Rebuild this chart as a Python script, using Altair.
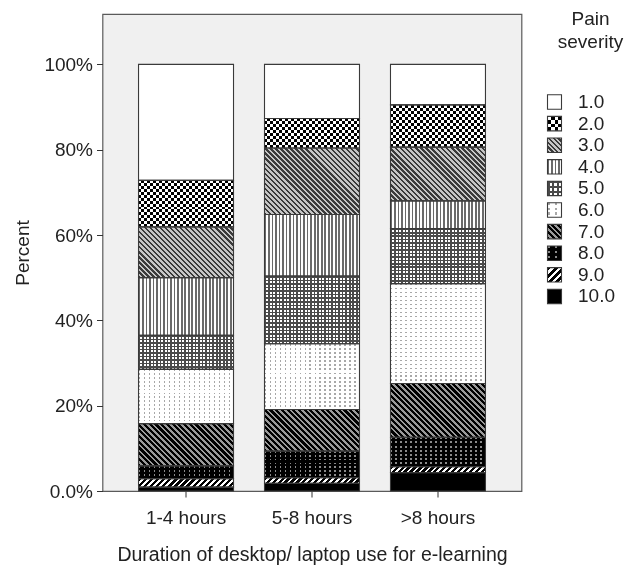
import math
import altair as alt
import pandas as pd

# ---------------- data ----------------
durations = ["1-4 hours", "5-8 hours", ">8 hours"]
severities = ["1.0", "2.0", "3.0", "4.0", "5.0", "6.0", "7.0", "8.0", "9.0", "10.0"]
pct_1_4 = [27.2, 10.9, 11.9, 13.5, 8.0, 12.7, 9.9, 3.0, 2.0, 0.9]
pct_5_8 = [12.7, 6.9, 15.6, 14.4, 15.9, 15.4, 9.75, 6.25, 1.3, 1.8]
pct_gt8 = [9.5, 9.9, 12.6, 6.5, 12.9, 23.4, 12.6, 6.9, 1.4, 4.3]
y_ticks = [0, 20, 40, 60, 80, 100]

rows = []
for d, vals in zip(durations, [pct_1_4, pct_5_8, pct_gt8]):
    for i, (s, v) in enumerate(zip(severities, vals)):
        rows.append({"duration": d, "severity": s, "sidx": i, "pct": v})
df = pd.DataFrame(rows)
df_leg = pd.DataFrame({"severity": severities})

# ---------------- layout ----------------
W, H, Y_MAX = 419, 477, 111.8
PAD_IN, PAD_OUT = 0.246, 0.286
STEP = W / (3 - PAD_IN + 2 * PAD_OUT)
BAR_W = STEP * (1 - PAD_IN)
PX = H / Y_MAX

# legend: three empty slots above the entries leave room for the legend title
leg_slots = ["pad0", "pad1", "pad2"] + severities
LEG_W = 14
LEG_STEP = 21.6
LEG_PI, LEG_PO, LEG_ALIGN = 0.33, 1.0, 0.37
LEG_H = LEG_STEP * (len(leg_slots) - LEG_PI + 2 * LEG_PO)
LEG_BW = LEG_STEP * (1 - LEG_PI)

FONT = "Liberation Sans"
TXT = "#222222"
CLEAR = "rgba(255,255,255,0)"


# ---------------- pattern fills (linear gradients) ----------------
def stops(n, ca, cb, fa):
    out = []
    for i in range(n):
        a, m, b = i / n, (i + fa) / n, (i + 1) / n
        out += [{"offset": round(a, 5), "color": ca}, {"offset": round(m, 5), "color": ca},
                {"offset": round(m, 5), "color": cb}, {"offset": round(b, 5), "color": cb}]
    return out


def vstripes(w, h, period, ca, cb, fa):
    n = max(1, round(w / period))
    return {"gradient": "linear", "x1": 0, "y1": 0, "x2": 1, "y2": 0, "stops": stops(n, ca, cb, fa)}


def hstripes(w, h, period, ca, cb, fa):
    n = max(1, round(h / period))
    return {"gradient": "linear", "x1": 0, "y1": 0, "x2": 0, "y2": 1, "stops": stops(n, ca, cb, fa)}


def diag(w, h, period, ca, cb, fa, back):
    r = h / w
    s = (1 + r) / (1 + r * r)
    n = max(1, round((w + h) / (period * math.sqrt(2))))
    if back:
        x1, y1, x2, y2 = 0, 1, s, 1 - s * r
    else:
        x1, y1, x2, y2 = 0, 0, s, s * r
    return {"gradient": "linear", "x1": round(x1, 5), "y1": round(y1, 5),
            "x2": round(x2, 5), "y2": round(y2, 5), "stops": stops(n, ca, cb, fa)}


def dback(w, h, period, ca, cb, fa):
    return diag(w, h, period, ca, cb, fa, True)


def dfwd(w, h, period, ca, cb, fa):
    return diag(w, h, period, ca, cb, fa, False)


# (builder, period in bars, period in legend, colour a, colour b, fraction a, blend)
patterns = {
    "1.0": [("solid", "#ffffff")],
    "2.0": [(vstripes, 6, 9.3, "#000000", "#ffffff", 0.5, None),
            (hstripes, 6, 9.3, "#ffffff", CLEAR, 0.5, "difference")],
    "3.0": [(dback, 3.6, 3.6, "#3a3a3a", "#c6c6c6", 0.5, None)],
    "4.0": [(vstripes, 3.5, 3.5, "#6a6a6a", "#ffffff", 0.5, None)],
    "5.0": [(vstripes, 3.5, 4.7, "#4a4a4a", "#ffffff", 0.45, None),
            (hstripes, 3.5, 4.7, "#4a4a4a", CLEAR, 0.45, None)],
    "6.0": [(vstripes, 5, 7, "#a8a8a8", "#ffffff", 0.3, None),
            (hstripes, 4, 5, CLEAR, "#ffffff", 0.45, None)],
    "7.0": [(dback, 4, 4, "#000000", "#9a9a9a", 0.55, None)],
    "8.0": [(vstripes, 5, 7, "#8a8a8a", "#000000", 0.3, None),
            (hstripes, 4, 5, CLEAR, "#000000", 0.45, None)],
    "9.0": [(dfwd, 4.2, 4.5, "#000000", "#ffffff", 0.55, None)],
    "10.0": [("solid", "#000000")],
}


def fills(sev, w, h, legend=False):
    out = []
    for spec in patterns[sev]:
        if spec[0] == "solid":
            out.append((spec[1], None))
        else:
            b, pm, pl, ca, cb, fa, blend = spec
            out.append((b(w, h, pl if legend else pm, ca, cb, fa), blend))
    return out


# ---------------- main chart ----------------
x_enc = alt.X(
    "duration:N", sort=durations,
    scale=alt.Scale(domain=durations, paddingInner=PAD_IN, paddingOuter=PAD_OUT),
    axis=alt.Axis(title="Duration of desktop/ laptop use for e-learning", labelAngle=0,
                  domain=False, ticks=True, tickSize=6, tickColor="#333333",
                  labelFont=FONT, labelFontSize=19, labelColor=TXT, labelPadding=11,
                  titleFont=FONT, titleFontSize=19.5, titleFontWeight="normal",
                  titleColor=TXT, titlePadding=18),
)
y_enc = alt.Y(
    "y0:Q", scale=alt.Scale(domain=[0, Y_MAX], nice=False, zero=True),
    axis=alt.Axis(title="Percent", values=y_ticks, grid=False, domain=False,
                  tickSize=6, tickColor="#333333",
                  labelExpr="datum.value == 0 ? '0.0%' : datum.value + '%'",
                  labelFont=FONT, labelFontSize=19, labelColor=TXT, labelPadding=4,
                  titleFont=FONT, titleFontSize=19, titleFontWeight="normal",
                  titleColor=TXT, titlePadding=11.5),
)

base = alt.Chart(df).transform_stack(
    stack="pct", groupby=["duration"], as_=["y0", "y1"],
    sort=[alt.SortField("sidx", order="descending")],
)

layers = []
for s_i, sev in enumerate(severities):
    for d_i, (d, vals) in enumerate(zip(durations, [pct_1_4, pct_5_8, pct_gt8])):
        h = vals[s_i] * PX
        for fill, blend in fills(sev, BAR_W, h):
            kw = {"fill": fill}
            if blend:
                kw["blend"] = blend
            layers.append(
                base.transform_filter(
                    f"datum.severity === '{sev}' && datum.duration === '{d}'"
                ).mark_bar(**kw).encode(x=x_enc, y=y_enc, y2="y1")
            )
layers.append(base.mark_bar(fillOpacity=0, stroke="#3a3a3a", strokeWidth=1.1)
              .encode(x=x_enc, y=y_enc, y2="y1"))

main = alt.layer(*layers).properties(
    width=W, height=H,
    view=alt.ViewBackground(fill="#f0f0f0", stroke="#5a5a5a", strokeWidth=1.2),
)

# ---------------- legend ----------------
leg_y = alt.Y(
    "severity:N", sort=leg_slots,
    scale=alt.Scale(domain=leg_slots, paddingInner=LEG_PI, paddingOuter=LEG_PO, align=LEG_ALIGN),
    axis=alt.Axis(orient="right", title=None, domain=False, ticks=False, labelPadding=16,
                  labelExpr="indexof(datum.label, 'pad') == 0 ? '' : datum.label",
                  labelFont=FONT, labelFontSize=19, labelColor=TXT, labelAlign="left"),
)
leg_layers = []
for sev in severities:
    for fill, blend in fills(sev, LEG_W, LEG_BW, legend=True):
        kw = {"fill": fill}
        if blend:
            kw["blend"] = blend
        leg_layers.append(
            alt.Chart(df_leg).transform_filter(f"datum.severity === '{sev}'")
            .mark_bar(**kw).encode(y=leg_y)
        )
leg_layers.append(alt.Chart(df_leg).mark_bar(fillOpacity=0, stroke="#3a3a3a", strokeWidth=1.1)
                  .encode(y=leg_y))

legend = alt.layer(*leg_layers).properties(
    width=LEG_W, height=LEG_H,
    title=alt.TitleParams(["Pain", "severity"], anchor="middle", frame="group", dx=36, dy=42,
                          font=FONT, fontSize=19, fontWeight="normal", color=TXT, lineHeight=23),
)

chart = alt.hconcat(main, legend, spacing=24).properties(
    padding={"left": 4.5, "top": 2, "right": 0, "bottom": 0}
).configure_view(strokeWidth=0)

chart.save("out.html", embed_options={"renderer": "svg", "actions": False})
